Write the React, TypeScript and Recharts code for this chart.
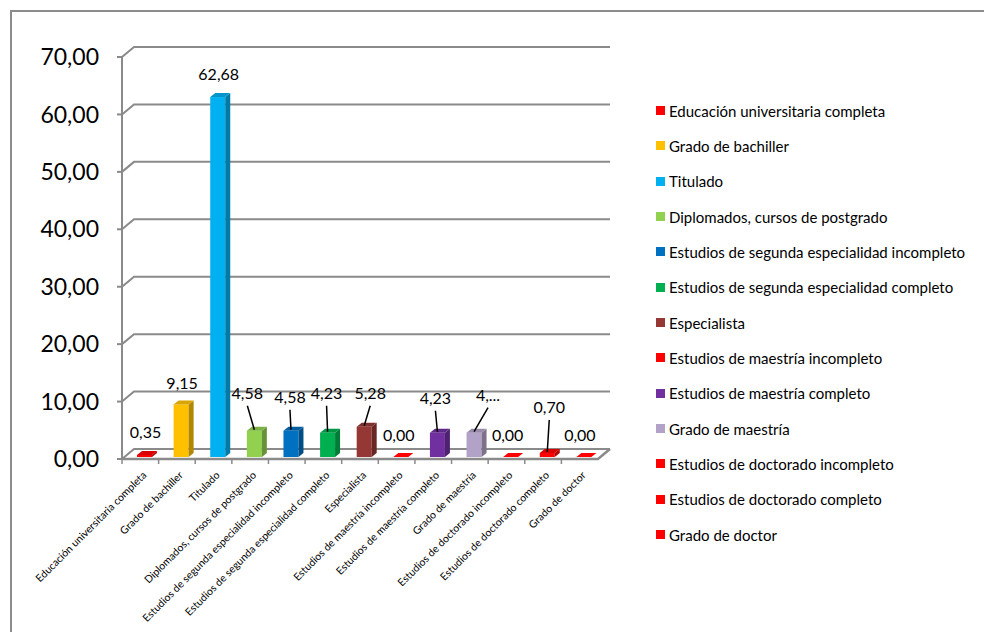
import React from 'react';
import { BarChart, Bar, XAxis, YAxis, CartesianGrid, Cell, LabelList, Legend } from 'recharts';

const categories = [
  'Educación universitaria completa',
  'Grado de bachiller',
  'Titulado',
  'Diplomados, cursos de postgrado',
  'Estudios de segunda especialidad incompleto',
  'Estudios de segunda especialidad completo',
  'Especialista',
  'Estudios de maestría incompleto',
  'Estudios de maestría completo',
  'Grado de maestría',
  'Estudios de doctorado incompleto',
  'Estudios de doctorado completo',
  'Grado de doctor',
];
const values = [0.35, 9.15, 62.68, 4.58, 4.58, 4.23, 5.28, 0.0, 4.23, 4.23, 0.0, 0.7, 0.0];
const colors = [
  '#FF0000', '#FFC000', '#00B0F0', '#92D050', '#0070C0', '#00B050', '#953735',
  '#FF0000', '#7030A0', '#B3A2C7', '#FF0000', '#FF0000', '#FF0000',
];
const yTicks = [0, 10, 20, 30, 40, 50, 60, 70];
const truncatedLabels = [9];
// label placement styling (px): lift above bar top, horizontal nudge
const labelLift = [25, 24, 26, 40, 36, 42, 36, 25, 37, 40, 25, 48, 25];
const labelShift = [1, 1, 1, -7, -1, -1, 6, -2, -2, 14, -3, 2, -4];

const data = categories.map((name, i) => ({ name, value: values[i] }));

const W = 984;
const H = 632;
const LEFT = 122;
const RIGHT = 598;
const TOP = 57;
const BOTTOM = 459;
const DX = 12;
const DY = 10;
const SHIFT_X = 4;
const SHIFT_Y = -2;
const BD_X = 5;
const BD_Y = 4;
const GRID = '#8a8a8a';
const FONT = 'Lato, "Open Sans", sans-serif';

const fmt = (v: number) => v.toFixed(2).replace('.', ',');

function shade(hex: string, f: number) {
  const n = parseInt(hex.slice(1), 16);
  const r = Math.round(((n >> 16) & 255) * f);
  const g = Math.round(((n >> 8) & 255) * f);
  const b = Math.round((n & 255) * f);
  return `rgb(${r},${g},${b})`;
}

const Bar3D = (props: any) => {
  const { x, y, width, height, fill } = props;
  const fx = x + SHIFT_X;
  const fy = y + SHIFT_Y;
  const h = Math.max(height || 0, 0);
  const sideC = shade(fill, 0.7);
  const topC = shade(fill, 0.85);
  return (
    <g>
      {h > 0 && <rect x={fx} y={fy} width={width} height={h} fill={fill} />}
      {h > 0 && (
        <path
          d={`M${fx + width},${fy} L${fx + width + BD_X},${fy - BD_Y} L${fx + width + BD_X},${fy + h - BD_Y} L${fx + width},${fy + h} Z`}
          fill={sideC}
        />
      )}
      <path
        d={`M${fx},${fy} L${fx + BD_X},${fy - BD_Y} L${fx + width + BD_X},${fy - BD_Y} L${fx + width},${fy} Z`}
        fill={h > 0 ? topC : fill}
      />
    </g>
  );
};

const renderLabel = (props: any) => {
  const { x, y, width, value, index } = props;
  const bc = x + width / 2;
  const lx = bc + SHIFT_X + labelShift[index];
  const ly = y - labelLift[index];
  const text = truncatedLabels.includes(index) ? fmt(value).slice(0, 2) + '...' : fmt(value);
  return (
    <g>
      {labelLift[index] > 30 && (
        <line x1={lx} y1={ly + 13} x2={bc + SHIFT_X} y2={y - 3} stroke="#000" strokeWidth={1.5} />
      )}
      <text x={lx} y={ly} textAnchor="middle" dominantBaseline="central" fontSize={16} fontFamily={FONT} fill="#000">
        {text}
      </text>
    </g>
  );
};

const XTick = (props: any) => {
  const { x, payload } = props;
  const ax = x + SHIFT_X;
  const ay = BOTTOM + 14;
  return (
    <text
      x={ax}
      y={ay}
      textAnchor="end"
      dominantBaseline="central"
      transform={`rotate(-45 ${ax} ${ay})`}
      fontSize={10.5}
      fontFamily={FONT}
      fill="#000"
    >
      {payload.value}
    </text>
  );
};

const gridLine = (p: any) => {
  const { x1, y1, x2 } = p;
  const isFloor = Math.abs(y1 - BOTTOM) < 1;
  const band = (x2 - x1) / categories.length;
  return (
    <g key={`g-${y1}`}>
      <path
        d={`M${x1},${y1} L${x1 + DX},${y1 - DY} L${x2 + DX},${y1 - DY}`}
        stroke={GRID}
        strokeWidth={2}
        fill="none"
      />
      {isFloor && (
        <path
          d={`M${x1},${y1} L${x2},${y1} L${x2 + DX},${y1 - DY}`}
          stroke={GRID}
          strokeWidth={2.5}
          fill="none"
        />
      )}
      {isFloor &&
        categories.map((c, i) => (
          <line key={c} x1={x1 + i * band} y1={y1} x2={x1 + i * band} y2={y1 + 5} stroke={GRID} strokeWidth={1.5} />
        ))}
    </g>
  );
};

const renderLegend = () => (
  <div style={{ fontFamily: FONT, fontSize: 15, color: '#000' }}>
    {categories.map((c, i) => (
      <div key={c} style={{ height: 35.33, display: 'flex', alignItems: 'center', whiteSpace: 'nowrap' }}>
        <span style={{ width: 9, height: 9, background: colors[i], marginRight: 4, display: 'inline-block' }} />
        {c}
      </div>
    ))}
  </div>
);

export default function App() {
  return (
    <div
      style={{
        position: 'absolute',
        left: 0,
        top: 0,
        width: W,
        height: H,
        overflow: 'hidden',
        background: '#fff',
        fontFamily: FONT,
      }}
    >
      <div
        style={{
          position: 'absolute',
          left: 10,
          top: 10,
          width: 1000,
          height: 700,
          borderLeft: '2px solid #8c8c8c',
          borderTop: '2px solid #8c8c8c',
        }}
      />
      <div style={{ position: 'absolute', left: 0, top: 0 }}>
        <BarChart
          width={W}
          height={H}
          data={data}
          margin={{ top: TOP, right: W - RIGHT, bottom: 0, left: 8 }}
          barSize={15}
        >
          <CartesianGrid vertical={false} horizontal={gridLine} />
          <YAxis
            width={LEFT - 8}
            domain={[0, 70]}
            ticks={yTicks}
            tickFormatter={fmt}
            axisLine={{ stroke: GRID, strokeWidth: 2 }}
            tickLine={{ stroke: GRID, strokeWidth: 2 }}
            tickSize={5}
            tickMargin={18}
            tick={{ fontSize: 23, fontFamily: FONT, fill: '#000' }}
            interval={0}
          />
          <XAxis
            dataKey="name"
            height={H - BOTTOM}
            axisLine={false}
            tickLine={false}
            interval={0}
            tick={<XTick />}
          />
          <Legend
            layout="horizontal"
            verticalAlign="middle"
            align="center"
            content={renderLegend}
            wrapperStyle={{ left: 656, top: 93, width: 328 }}
          />
          <Bar dataKey="value" isAnimationActive={false} shape={<Bar3D />}>
            {data.map((d, i) => (
              <Cell key={d.name} fill={colors[i]} />
            ))}
            <LabelList dataKey="value" content={renderLabel} />
          </Bar>
        </BarChart>
      </div>
    </div>
  );
}
